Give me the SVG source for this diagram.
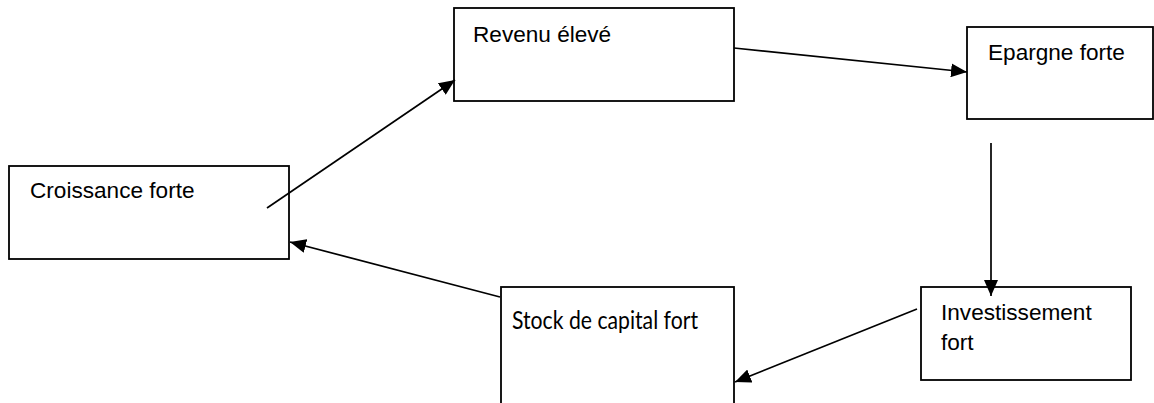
<svg xmlns="http://www.w3.org/2000/svg" width="1154" height="403" viewBox="0 0 1154 403">
<style>
.box{fill:#fff;stroke:#000;stroke-width:1.8}
.t{font-family:"Liberation Sans",Arial,sans-serif;font-size:22.6px;fill:#000}
.c{font-family:Lato,"Open Sans",sans-serif;font-size:25px;fill:#000}
.edge{stroke:#000;stroke-width:1.7;fill:none;marker-end:url(#ah)}
</style>
<defs>
<marker id="ah" markerUnits="userSpaceOnUse" markerWidth="17" markerHeight="14" refX="16" refY="7" orient="auto">
<path d="M0,0 L16,7 L0,14 z" fill="#000"/>
</marker>
</defs>
<g id="revenu"><rect class="box" x="454" y="8" width="280" height="93"/><text class="t" x="473" y="42">Revenu élevé</text></g>
<g id="epargne"><rect class="box" x="967" y="27" width="186" height="92"/><text class="t" x="988" y="60">Epargne forte</text></g>
<g id="croissance"><rect class="box" x="9" y="166" width="280" height="93"/><text class="t" x="30" y="198">Croissance forte</text></g>
<g id="stock"><rect class="box" x="501" y="287" width="233" height="130"/><text class="c" x="512" y="329" textLength="186" lengthAdjust="spacingAndGlyphs">Stock de capital fort</text></g>
<g id="investissement"><rect class="box" x="921" y="287" width="210" height="93"/><text class="t" x="941" y="320">Investissement</text><text class="t" x="941" y="350">fort</text></g>
<g id="connectors">
<line class="edge" x1="267" y1="208" x2="455" y2="80"/>
<line class="edge" x1="734" y1="48" x2="967" y2="72"/>
<line class="edge" x1="991" y1="143" x2="991" y2="296"/>
<line class="edge" x1="917" y1="309" x2="735" y2="382"/>
<line class="edge" x1="500" y1="297" x2="290" y2="242"/>
</g>
</svg>
